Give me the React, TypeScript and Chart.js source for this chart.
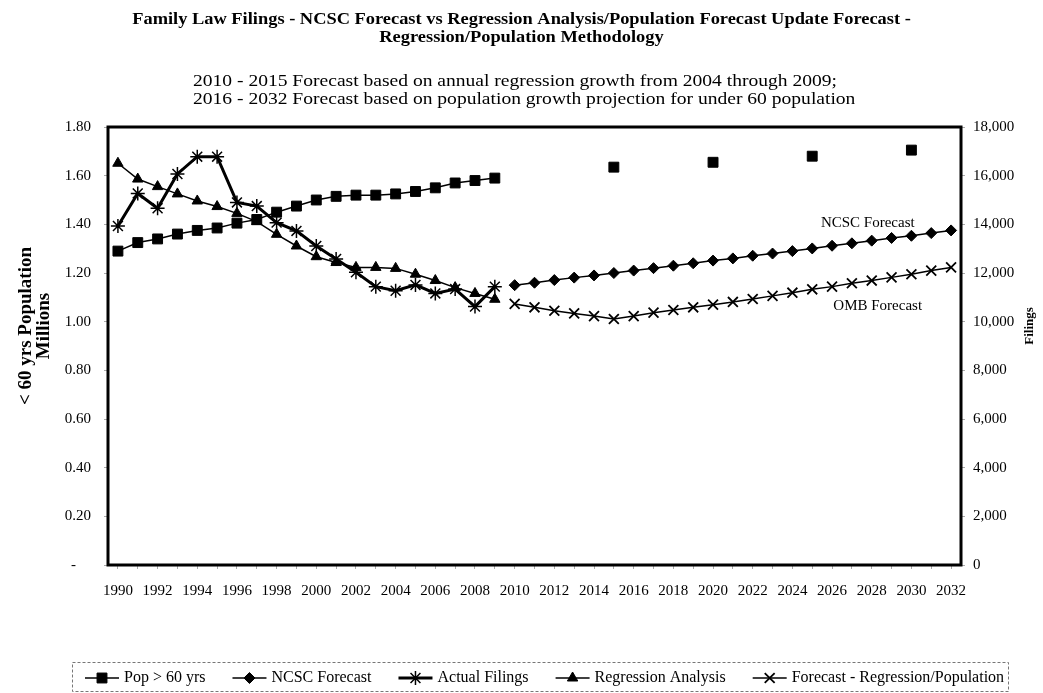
import React, { useEffect, useRef } from 'react';
import { Chart, registerables } from 'chart.js';
import { drawPoint } from 'chart.js/helpers';

Chart.register(...registerables);

const FONT = '"Liberation Serif", "Times New Roman", Times, serif';

const titleLines = [
  'Family Law Filings - NCSC Forecast vs Regression Analysis/Population Forecast Update Forecast -',
  'Regression/Population Methodology',
];
const subtitleLines = [
  '2010 - 2015 Forecast based on annual regression growth from 2004 through 2009;',
  '2016 - 2032 Forecast based on population growth projection for under 60 population',
];

const years = [
  '1990', '1991', '1992', '1993', '1994', '1995', '1996', '1997', '1998', '1999',
  '2000', '2001', '2002', '2003', '2004', '2005', '2006', '2007', '2008', '2009',
  '2010', '2011', '2012', '2013', '2014', '2015', '2016', '2017', '2018', '2019',
  '2020', '2021', '2022', '2023', '2024', '2025', '2026', '2027', '2028', '2029',
  '2030', '2031', '2032',
];

// left axis (millions)
const popOver60 = [
  1.29, 1.325, 1.34, 1.36, 1.375, 1.385, 1.405, 1.42, 1.45, 1.475,
  1.5, 1.515, 1.52, 1.52, 1.525, 1.535, 1.55, 1.57, 1.58, 1.59,
  null, null, null, null, null, 1.635, null, null, null, null,
  1.655, null, null, null, null, 1.68, null, null, null, null,
  1.705, null, null,
];

// right axis (filings)
const ncscForecast = [
  null, null, null, null, null, null, null, null, null, null,
  null, null, null, null, null, null, null, null, null, null,
  11500, 11600, 11710, 11810, 11900, 12000, 12100, 12200, 12300, 12400,
  12510, 12600, 12710, 12800, 12900, 13010, 13120, 13220, 13330, 13440,
  13530, 13640, 13750,
];

const actualFilings = [
  13930, 15270, 14660, 16070, 16780, 16780, 14900, 14750, 14070, 13730,
  13110, 12580, 12030, 11440, 11270, 11510, 11160, 11340, 10620, 11440,
];

const regressionAnalysis = [
  16510, 15860, 15550, 15250, 14960, 14730, 14450, 14110, 13590, 13110,
  12670, 12430, 12230, 12230, 12190, 11950, 11690, 11400, 11160, 10920,
];

const forecastRegPop = [
  null, null, null, null, null, null, null, null, null, null,
  null, null, null, null, null, null, null, null, null, null,
  10730, 10590, 10450, 10340, 10230, 10110, 10230, 10370, 10480, 10590,
  10700, 10810, 10930, 11060, 11190, 11330, 11440, 11580, 11690, 11820,
  11950, 12100, 12230,
];

const leftTickLabels = ['-    ', '0.20', '0.40', '0.60', '0.80', '1.00', '1.20', '1.40', '1.60', '1.80'];
const rightTickLabels = ['0', '2,000', '4,000', '6,000', '8,000', '10,000', '12,000', '14,000', '16,000', '18,000'];

const leftAxisTitle = ['< 60 yrs Population', 'Millions'];
const rightAxisTitle = 'Filings';

const noteLabels = ['NCSC Forecast', 'OMB Forecast'];
const noteYears = [2027.8, 2028.3];
const noteValues = [14050, 10650];

function stretchedText(ctx: any, text: string, x: number, y: number, align: string, font: string, sx: number) {
  ctx.save();
  ctx.font = font;
  ctx.textAlign = align;
  ctx.textBaseline = 'middle';
  ctx.translate(x, y);
  ctx.scale(sx, 1);
  ctx.fillText(text, 0, 0);
  ctx.restore();
}

const decorPlugin = {
  id: 'decor',
  beforeDatasetsDraw(chart: any) {
    const { ctx, chartArea: a } = chart;
    ctx.save();
    ctx.strokeStyle = '#000';
    ctx.lineWidth = 3;
    ctx.strokeRect(a.left, a.top, a.right - a.left, a.bottom - a.top);
    ctx.restore();
  },
  afterDraw(chart: any) {
    const { ctx, chartArea: a } = chart;
    const xs = chart.scales.x;
    const y1 = chart.scales.y1;
    ctx.save();
    ctx.fillStyle = '#000';

    // title + subtitle
    const cx = chart.width / 2;
    stretchedText(ctx, titleLines[0], cx, 20, 'center', `bold 16px ${FONT}`, 1.15);
    stretchedText(ctx, titleLines[1], cx, 38, 'center', `bold 16px ${FONT}`, 1.15);
    stretchedText(ctx, subtitleLines[0], 193, 82, 'left', `17px ${FONT}`, 1.15);
    stretchedText(ctx, subtitleLines[1], 193, 100, 'left', `17px ${FONT}`, 1.15);

    // annotations
    ctx.font = `15px ${FONT}`;
    ctx.textAlign = 'center';
    ctx.textBaseline = 'middle';
    noteLabels.forEach((t, i) => {
      const px = xs.getPixelForValue(noteYears[i] - 1990);
      const py = y1.getPixelForValue(noteValues[i]);
      ctx.fillText(t, px, py);
    });

    // axis titles
    const midY = (a.top + a.bottom) / 2 - 20;
    ctx.font = `bold 19px ${FONT}`;
    ctx.save();
    ctx.translate(26, midY);
    ctx.rotate(-Math.PI / 2);
    ctx.fillText(leftAxisTitle[0], 0, 0);
    ctx.restore();
    ctx.save();
    ctx.translate(44, midY);
    ctx.rotate(-Math.PI / 2);
    ctx.fillText(leftAxisTitle[1], 0, 0);
    ctx.restore();
    ctx.font = `bold 13px ${FONT}`;
    ctx.save();
    ctx.translate(1030, midY);
    ctx.rotate(-Math.PI / 2);
    ctx.fillText(rightAxisTitle, 0, 0);
    ctx.restore();

    // legend
    ctx.font = `16px ${FONT}`;
    const cy = chart.height - 15;
    let x = 85;
    const lineW = 34;
    const gapText = 5;
    const gapItem = 27;
    chart.data.datasets.forEach((ds: any) => {
      ctx.setLineDash([]);
      ctx.strokeStyle = '#000';
      ctx.lineWidth = ds.borderWidth;
      ctx.beginPath();
      ctx.moveTo(x, cy);
      ctx.lineTo(x + lineW, cy);
      ctx.stroke();
      ctx.fillStyle = '#000';
      ctx.lineWidth = ds.pointBorderWidth;
      drawPoint(ctx, { pointStyle: ds.pointStyle, radius: ds.pointRadius, borderWidth: ds.pointBorderWidth, rotation: 0 } as any, x + lineW / 2, cy);
      x += lineW + gapText;
      ctx.textAlign = 'left';
      ctx.textBaseline = 'middle';
      ctx.fillText(ds.label, x, cy);
      x += ctx.measureText(ds.label).width + gapItem;
    });
    ctx.setLineDash([3, 2]);
    ctx.strokeStyle = '#777';
    ctx.lineWidth = 1;
    ctx.strokeRect(72.5, cy - 15.5, 936, 29);
    ctx.restore();
  },
};

const tickFont = { family: FONT, size: 15 };

export default function App() {
  const ref = useRef<HTMLCanvasElement | null>(null);

  useEffect(() => {
    if (!ref.current) return;
    const common = {
      borderColor: '#000',
      backgroundColor: '#000',
      pointBackgroundColor: '#000',
      pointBorderColor: '#000',
      spanGaps: false,
      tension: 0,
      fill: false,
    };
    const chart = new Chart(ref.current, {
      type: 'line',
      data: {
        labels: years,
        datasets: [
          { ...common, label: 'Pop > 60 yrs', data: popOver60, yAxisID: 'y', borderWidth: 1.5, pointStyle: 'rect', pointRadius: 7, pointBorderWidth: 1 },
          { ...common, label: 'NCSC Forecast', data: ncscForecast, yAxisID: 'y1', borderWidth: 1.5, pointStyle: 'rectRot', pointRadius: 5.5, pointBorderWidth: 1 },
          { ...common, label: 'Actual Filings', data: actualFilings, yAxisID: 'y1', borderWidth: 3, pointStyle: 'star', pointRadius: 7, pointBorderWidth: 1.5 },
          { ...common, label: 'Regression Analysis', data: regressionAnalysis, yAxisID: 'y1', borderWidth: 1.5, pointStyle: 'triangle', pointRadius: 6, pointBorderWidth: 1 },
          { ...common, label: 'Forecast - Regression/Population', data: forecastRegPop, yAxisID: 'y1', borderWidth: 1.5, pointStyle: 'crossRot', pointRadius: 7, pointBorderWidth: 1.8 },
        ] as any,
      },
      options: {
        animation: false,
        responsive: true,
        maintainAspectRatio: false,
        layout: { padding: { left: 0, right: 0, top: 127, bottom: 78 } },
        plugins: {
          legend: { display: false },
          tooltip: { enabled: false },
          title: { display: false },
          subtitle: { display: false },
        },
        scales: {
          x: {
            type: 'category',
            offset: true,
            border: { display: false },
            grid: { drawOnChartArea: false, drawTicks: true, tickLength: 4, color: '#aaa' },
            ticks: {
              autoSkip: false,
              maxRotation: 0,
              minRotation: 0,
              padding: 13,
              color: '#000',
              font: tickFont,
              callback: (_v: any, i: number) => (i % 2 === 0 ? years[i] : ''),
            },
            afterFit: (s: any) => { s.height = 50; },
          },
          y: {
            position: 'left',
            min: 0,
            max: 1.8,
            border: { display: false },
            grid: { drawOnChartArea: false, drawTicks: true, tickLength: 4, color: '#aaa' },
            ticks: {
              stepSize: 0.2,
              padding: 13,
              color: '#000',
              font: tickFont,
              callback: (_v: any, i: number) => leftTickLabels[i],
            },
            afterFit: (s: any) => { s.width = 108; },
          },
          y1: {
            position: 'right',
            min: 0,
            max: 18000,
            border: { display: false },
            grid: { drawOnChartArea: false, drawTicks: true, tickLength: 4, color: '#aaa' },
            ticks: {
              stepSize: 2000,
              padding: 8,
              color: '#000',
              font: tickFont,
              callback: (_v: any, i: number) => rightTickLabels[i],
            },
            afterFit: (s: any) => { s.width = 82; },
          },
        },
      } as any,
      plugins: [decorPlugin],
    });
    return () => chart.destroy();
  }, []);

  return (
    <div style={{ position: 'absolute', left: 0, top: 0, width: 1043, height: 693, background: '#fff' }}>
      <canvas ref={ref} />
    </div>
  );
}
